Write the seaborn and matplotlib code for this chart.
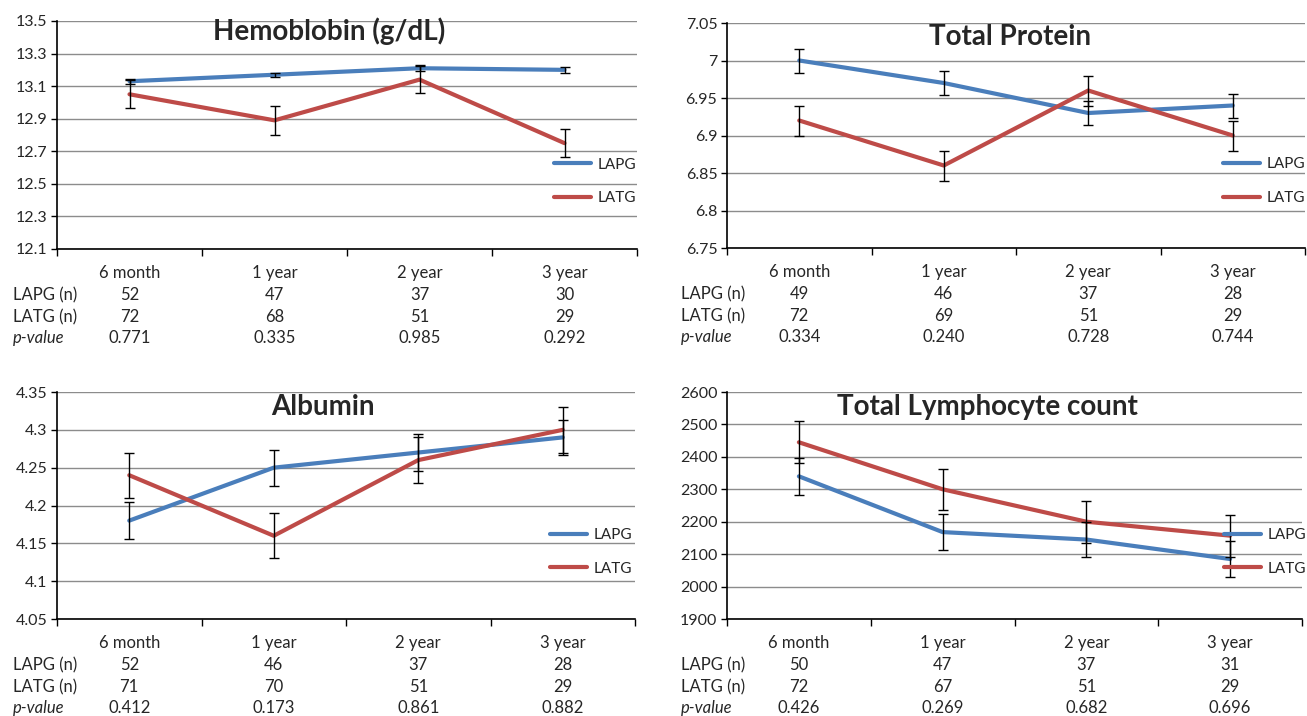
import numpy as np
import pandas as pd
import matplotlib
matplotlib.use("Agg")
import matplotlib.pyplot as plt
import seaborn as sns

# ==============================
# DATOS
# ==============================
categories = ["6 month", "1 year", "2 year", "3 year"]
groups = ["LAPG", "LATG"]

hb_lapg = [13.13, 13.17, 13.21, 13.20]
hb_lapg_err = [0.015, 0.012, 0.018, 0.018]
hb_latg = [13.05, 12.89, 13.14, 12.75]
hb_latg_err = [0.085, 0.088, 0.085, 0.088]

tp_lapg = [7.00, 6.97, 6.93, 6.94]
tp_lapg_err = [0.016, 0.016, 0.016, 0.016]
tp_latg = [6.92, 6.86, 6.96, 6.90]
tp_latg_err = [0.02, 0.02, 0.02, 0.02]

alb_lapg = [4.18, 4.25, 4.27, 4.29]
alb_lapg_err = [0.024, 0.024, 0.024, 0.023]
alb_latg = [4.24, 4.16, 4.26, 4.30]
alb_latg_err = [0.03, 0.03, 0.03, 0.03]

tlc_lapg = [2340, 2168, 2145, 2085]
tlc_lapg_err = [57, 56, 55, 55]
tlc_latg = [2445, 2300, 2200, 2157]
tlc_latg_err = [65, 64, 65, 65]

hb_n_lapg = [52, 47, 37, 30]
hb_n_latg = [72, 68, 51, 29]
hb_p = ["0.771", "0.335", "0.985", "0.292"]

tp_n_lapg = [49, 46, 37, 28]
tp_n_latg = [72, 69, 51, 29]
tp_p = ["0.334", "0.240", "0.728", "0.744"]

alb_n_lapg = [52, 46, 37, 28]
alb_n_latg = [71, 70, 51, 29]
alb_p = ["0.412", "0.173", "0.861", "0.882"]

tlc_n_lapg = [50, 47, 37, 31]
tlc_n_latg = [72, 67, 51, 29]
tlc_p = ["0.426", "0.269", "0.682", "0.696"]

hb_ticks = [12.1, 12.3, 12.5, 12.7, 12.9, 13.1, 13.3, 13.5]
hb_ticklabels = ["12.1", "12.3", "12.5", "12.7", "12.9", "13.1", "13.3", "13.5"]
tp_ticks = [6.75, 6.8, 6.85, 6.9, 6.95, 7.0, 7.05]
tp_ticklabels = ["6.75", "6.8", "6.85", "6.9", "6.95", "7", "7.05"]
alb_ticks = [4.05, 4.1, 4.15, 4.2, 4.25, 4.3, 4.35]
alb_ticklabels = ["4.05", "4.1", "4.15", "4.2", "4.25", "4.3", "4.35"]
tlc_ticks = [1900, 2000, 2100, 2200, 2300, 2400, 2500, 2600]
tlc_ticklabels = ["1900", "2000", "2100", "2200", "2300", "2400", "2500", "2600"]

# ==============================
# CONFIGURACION VISUAL
# ==============================
sns.set_theme(style="white")
plt.rcParams["font.family"] = ["Lato", "DejaVu Sans"]

palette = {"LAPG": "#4a7ebb", "LATG": "#be4b48"}
W, H = 1307, 716
FS = 12

fig = plt.figure(figsize=(W / 100, H / 100), dpi=100)

# posiciones en pixeles: (izq, arriba, der, abajo)
boxes = [(57, 21, 637, 249), (727, 23, 1305, 248),
         (57, 392, 635, 619), (727, 392, 1302, 619)]
title_pos = [(329, 31), (1010, 37), (323, 407), (987, 407)]
row_label_x = [13, 681, 13, 681]
legend_x = [554, 1223, 550, 1224]

panels = [
    ("Hemoblobin (g/dL)", hb_lapg, hb_lapg_err, hb_latg, hb_latg_err,
     hb_ticks, hb_ticklabels, hb_n_lapg, hb_n_latg, hb_p),
    ("Total Protein", tp_lapg, tp_lapg_err, tp_latg, tp_latg_err,
     tp_ticks, tp_ticklabels, tp_n_lapg, tp_n_latg, tp_p),
    ("Albumin", alb_lapg, alb_lapg_err, alb_latg, alb_latg_err,
     alb_ticks, alb_ticklabels, alb_n_lapg, alb_n_latg, alb_p),
    ("Total Lymphocyte count", tlc_lapg, tlc_lapg_err, tlc_latg, tlc_latg_err,
     tlc_ticks, tlc_ticklabels, tlc_n_lapg, tlc_n_latg, tlc_p),
]

for i, (title, lapg, lapg_err, latg, latg_err, ticks, ticklabels,
        n_lapg, n_latg, pvals) in enumerate(panels):
    l, t, r, b = boxes[i]
    ax = fig.add_axes([l / W, 1 - b / H, (r - l) / W, (b - t) / H])

    df = pd.DataFrame({
        "pos": list(range(4)) * 2,
        "value": lapg + latg,
        "group": ["LAPG"] * 4 + ["LATG"] * 4,
    })
    sns.lineplot(data=df, x="pos", y="value", hue="group", hue_order=groups,
                 palette=palette, linewidth=3, ax=ax, zorder=2)
    ax.errorbar(range(4), lapg, yerr=lapg_err, fmt="none", ecolor="black",
                elinewidth=1, capsize=3.5, capthick=1, zorder=3)
    ax.errorbar(range(4), latg, yerr=latg_err, fmt="none", ecolor="black",
                elinewidth=1, capsize=3.5, capthick=1, zorder=3)

    ax.set_xlim(-0.5, 3.5)
    ax.set_ylim(ticks[0], ticks[-1])
    ax.set_yticks(ticks)
    ax.set_yticklabels(ticklabels, fontsize=11.5)
    ax.set_xticks([])
    ax.set_xticks([-0.5, 0.5, 1.5, 2.5, 3.5], minor=True)
    ax.tick_params(axis="x", which="minor", direction="out", length=5,
                   width=1, color="black", bottom=True)
    ax.tick_params(axis="y", direction="out", length=4, width=1,
                   color="black", left=True, pad=3)
    ax.set_xlabel("")
    ax.set_ylabel("")
    ax.yaxis.grid(True, color="#8c8c8c", linewidth=1)
    ax.set_axisbelow(True)
    for s in ["top", "right"]:
        ax.spines[s].set_visible(False)
    for s in ["left", "bottom"]:
        ax.spines[s].set_color("black")
        ax.spines[s].set_linewidth(1.2)

    # titulo
    tx, ty = title_pos[i]
    ax.text((tx - l) / (r - l), (b - ty) / (b - t), title, transform=ax.transAxes,
            ha="center", va="center", fontsize=20, fontweight="bold")

    # leyenda
    handles, labels = ax.get_legend_handles_labels()
    ax.legend(handles, labels, loc="center left",
              bbox_to_anchor=((legend_x[i] - l) / (r - l), 0.296),
              frameon=False, fontsize=11, handlelength=2.4, handletextpad=0.45,
              labelspacing=1.3, borderpad=0, borderaxespad=0)

    # tabla inferior
    rows = [categories, [str(v) for v in n_lapg], [str(v) for v in n_latg], pvals]
    offsets = [24, 46, 68, 89]
    for vals, dy in zip(rows, offsets):
        for j, v in enumerate(vals):
            ax.annotate(v, xy=(j, 0), xycoords=ax.get_xaxis_transform(),
                        xytext=(0, -dy), textcoords="offset pixels",
                        ha="center", va="center", fontsize=FS)
    lx = (row_label_x[i] - l) / (r - l)
    for name, dy, style in [("LAPG (n)", 46, "normal"), ("LATG (n)", 68, "normal"),
                            ("p-value", 89, "italic")]:
        ax.annotate(name, xy=(lx, 0), xycoords="axes fraction",
                    xytext=(0, -dy), textcoords="offset pixels",
                    ha="left", va="center", fontsize=FS, fontstyle=style)

fig.savefig("out.png", dpi=100)
